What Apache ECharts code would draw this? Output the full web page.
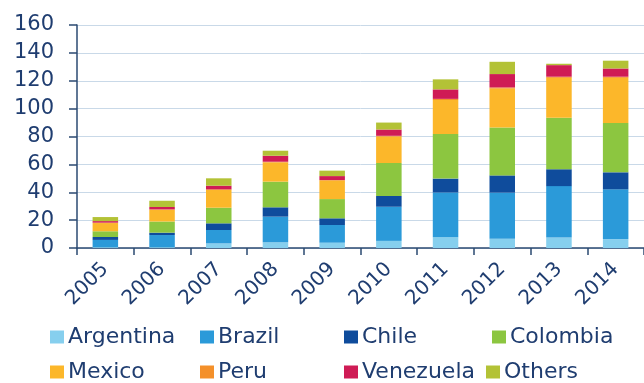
<!DOCTYPE html>
<html>
<head>
<meta charset="utf-8">
<script src="https://cdn.jsdelivr.net/npm/echarts@6/dist/echarts.min.js"></script>
<style>html,body{margin:0;padding:0;background:#fff;}#c{width:644px;height:383px;}</style>
</head>
<body>
<div id="c"></div>
<script>
const years = ['2005','2006','2007','2008','2009','2010','2011','2012','2013','2014'];
const yTicks = [0, 20, 40, 60, 80, 100, 120, 140, 160];
const argentina = [0.6, 0.6, 3.3, 4.1, 3.8, 5.1, 7.7, 6.6, 7.5, 6.2];
const brazil    = [5.2, 8.7, 9.6, 18.4, 12.7, 24.5, 32.1, 33.1, 36.9, 35.9];
const chile     = [2.1, 1.7, 4.8, 6.7, 4.8, 7.7, 10.0, 12.4, 12.1, 12.2];
const colombia  = [4.1, 8.0, 11.2, 18.4, 13.8, 23.7, 32.0, 34.4, 37.0, 35.3];
const mexico    = [5.9, 8.4, 12.7, 13.8, 13.2, 18.9, 24.4, 27.9, 28.6, 32.5];
const peru      = [0.3, 0.3, 0.5, 0.5, 0.5, 0.6, 0.8, 0.8, 0.8, 0.8];
const venezuela = [1.1, 1.7, 2.6, 4.3, 2.8, 4.5, 6.8, 9.6, 8.3, 5.9];
const others    = [2.9, 4.5, 5.3, 3.6, 3.9, 5.0, 7.2, 8.8, 1.0, 5.6];

const seriesNames = ['Argentina','Brazil','Chile','Colombia','Mexico','Peru','Venezuela','Others'];
const seriesData = [argentina, brazil, chile, colombia, mexico, peru, venezuela, others];
const colors = ['#86cfee','#2b9ad9','#0f4c9c','#8cc640','#fcb72a','#f4902a','#cf1b55','#b3c236'];

const textColor = '#1f3d70';
const FONT = 'DejaVu Sans';

const legendPos = [
  [50, 326], [200, 326], [344, 326], [492, 326],
  [50, 361], [200, 361], [344, 361], [486, 361]
];

const chart = echarts.init(document.getElementById('c'), null, {renderer: 'canvas'});
chart.setOption({
  backgroundColor: '#ffffff',
  animation: false,
  color: colors,
  grid: { left: 77, top: 25, width: 572, height: 223, containLabel: false },
  legend: seriesNames.map((n, i) => ({
    data: [n],
    left: legendPos[i][0],
    top: legendPos[i][1],
    icon: 'rect',
    itemWidth: 14,
    itemHeight: 13,
    padding: 0,
    textStyle: { color: textColor, fontSize: 22, fontFamily: FONT, padding: [0, 0, 0, -1] }
  })),
  xAxis: {
    type: 'category',
    data: years,
    boundaryGap: true,
    axisLine: { lineStyle: { color: '#2b4a72', width: 1.5 } },
    axisTick: { show: true, length: 7, lineStyle: { color: '#2b4a72', width: 1.5 } },
    axisLabel: { rotate: 45, color: textColor, fontSize: 20, fontFamily: FONT, margin: 18 }
  },
  yAxis: {
    type: 'value',
    min: 0, max: 160, interval: 20,
    axisLine: { show: true, lineStyle: { color: '#2b4a72', width: 1.5 } },
    axisTick: { show: true, length: 8, lineStyle: { color: '#2b4a72', width: 1.5 } },
    splitLine: { show: true, lineStyle: { color: '#c9d9e8', width: 1 } },
    axisLabel: {
      color: textColor, fontSize: 21, fontFamily: FONT, margin: 23,
      formatter: v => yTicks.includes(v) ? String(v) : ''
    }
  },
  series: seriesNames.map((n, i) => ({
    name: n,
    type: 'bar',
    stack: 'total',
    barWidth: '45%',
    data: seriesData[i],
    itemStyle: { color: colors[i] }
  }))
});
</script>
</body>
</html>
